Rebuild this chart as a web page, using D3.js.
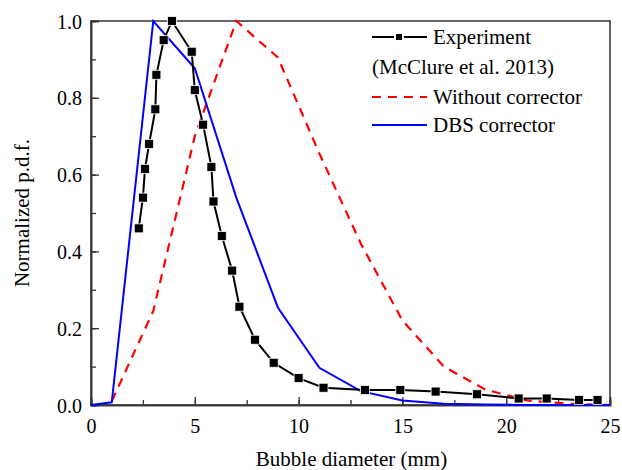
<!DOCTYPE html>
<html>
<head>
<meta charset="utf-8">
<script src="https://cdn.jsdelivr.net/npm/d3@7"></script>
<style>
  body { margin: 0; background: #fff; }
</style>
</head>
<body>
<div id="chart"></div>
<script>
// Experiment (McClure et al. 2013)
const expX = [2.3, 2.5, 2.6, 2.8, 3.1, 3.15, 3.5, 3.9, 4.85, 5.0, 5.4, 5.8, 5.9, 6.3, 6.8, 7.15, 7.9, 8.8, 10.0, 11.2, 13.2, 14.9, 16.6, 18.6, 20.6, 21.95, 23.5, 24.4];
const expY = [0.46, 0.54, 0.615, 0.68, 0.77, 0.86, 0.95, 1.0, 0.92, 0.82, 0.73, 0.62, 0.53, 0.44, 0.35, 0.256, 0.17, 0.11, 0.07, 0.045, 0.039, 0.039, 0.035, 0.028, 0.017, 0.017, 0.013, 0.013];

// Without corrector
const noX = [1, 3, 5, 7, 9, 11, 13, 15, 17, 19, 21, 23, 25];
const noY = [0.01, 0.245, 0.70, 1.0, 0.905, 0.655, 0.42, 0.22, 0.10, 0.04, 0.012, 0.003, 0.0];

// DBS corrector
const dbsX = [0, 1, 3, 5, 7, 9, 11, 13, 15, 17, 19, 21, 23, 25];
const dbsY = [0, 0.007, 1.0, 0.877, 0.54, 0.254, 0.097, 0.036, 0.012, 0.003, 0.001, 0, 0, 0];

const xTicks = [0, 5, 10, 15, 20, 25];
const yTicks = [0, 0.2, 0.4, 0.6, 0.8, 1.0];

const serif = '"Liberation Serif", "Times New Roman", Times, "DejaVu Serif", serif';

const W = 622, H = 470;
const margin = { top: 21, right: 12, bottom: 65, left: 91 };
const width = W - margin.left - margin.right;
const height = H - margin.top - margin.bottom;

const svg = d3.select('#chart').append('svg')
    .attr('width', W)
    .attr('height', H)
    .attr('font-family', serif);

const g = svg.append('g')
    .attr('transform', 'translate(' + margin.left + ',' + margin.top + ')');

const x = d3.scaleLinear().domain([0, 25]).range([0, width]);
const y = d3.scaleLinear().domain([0, 1]).range([height, 0]);

// frame
g.append('rect')
    .attr('width', width).attr('height', height)
    .attr('fill', 'none').attr('stroke', '#333').attr('stroke-width', 1.5);

// minor ticks
const xAxisMinor = d3.axisBottom(x).tickValues(d3.range(0, 25.01, 2.5)).tickSize(-5).tickFormat('');
const yAxisMinor = d3.axisLeft(y).tickValues(d3.range(0, 1.01, 0.1)).tickSize(-5).tickFormat('');
g.append('g').attr('transform', 'translate(0,' + height + ')').call(xAxisMinor);
g.append('g').call(yAxisMinor);

// major ticks
const xAxis = d3.axisBottom(x).tickValues(xTicks).tickSize(-8).tickPadding(14).tickFormat(d3.format('d'));
const yAxis = d3.axisLeft(y).tickValues(yTicks).tickSize(-8).tickPadding(9).tickFormat(d3.format('.1f'));
g.append('g').attr('class', 'xa').attr('transform', 'translate(0,' + height + ')').call(xAxis);
g.append('g').attr('class', 'ya').call(yAxis);

g.selectAll('.domain').attr('stroke', '#333').attr('stroke-width', 1.5);
g.selectAll('.tick line').attr('stroke', '#333').attr('stroke-width', 1.3);
g.selectAll('.tick text').attr('fill', '#000')
    .attr('font-family', serif).attr('font-size', 20);
g.selectAll('.ya .tick text').attr('dy', '0.35em');

// axis titles
svg.append('text')
    .attr('x', margin.left + width / 2 + 1).attr('y', 466)
    .attr('text-anchor', 'middle').attr('font-size', 21)
    .text('Bubble diameter (mm)');
svg.append('text')
    .attr('transform', 'translate(29,' + (margin.top + height / 2) + ') rotate(-90)')
    .attr('text-anchor', 'middle').attr('font-size', 21)
    .text('Normalized p.d.f.');

const line = d3.line().x(d => x(d[0])).y(d => y(d[1]));
const plot = g.append('g');

plot.append('path')
    .datum(d3.zip(noX, noY))
    .attr('d', line).attr('fill', 'none')
    .attr('stroke', '#ff0000').attr('stroke-width', 2.2)
    .attr('stroke-dasharray', '9,7');

plot.append('path')
    .datum(d3.zip(dbsX, dbsY))
    .attr('d', line).attr('fill', 'none')
    .attr('stroke', '#0000ff').attr('stroke-width', 2);

const expData = d3.zip(expX, expY);
plot.append('path')
    .datum(expData)
    .attr('d', line).attr('fill', 'none')
    .attr('stroke', '#000').attr('stroke-width', 2);

plot.selectAll('rect.pt')
    .data(expData)
    .enter().append('rect')
    .attr('class', 'pt')
    .attr('x', d => x(d[0]) - 4.5)
    .attr('y', d => y(d[1]) - 4.5)
    .attr('width', 9).attr('height', 9)
    .attr('fill', '#000').attr('stroke', '#fff').attr('stroke-width', 0.8);

// legend
const leg = svg.append('g');
const lx0 = 372, lx1 = 427, tx = 433;
const fs = 21;

leg.append('line').attr('x1', lx0).attr('x2', lx1).attr('y1', 37).attr('y2', 37)
    .attr('stroke', '#000').attr('stroke-width', 2);
leg.append('rect').attr('x', 395).attr('y', 33).attr('width', 8).attr('height', 8)
    .attr('fill', '#000').attr('stroke', '#fff').attr('stroke-width', 2);
leg.append('text').attr('x', tx).attr('y', 37).attr('dy', '0.35em').attr('font-size', fs).text('Experiment');
leg.append('text').attr('x', lx0).attr('y', 67).attr('dy', '0.35em').attr('font-size', fs).text('(McClure et al. 2013)');

leg.append('line').attr('x1', lx0).attr('x2', lx1).attr('y1', 97).attr('y2', 97)
    .attr('stroke', '#ff0000').attr('stroke-width', 2.2).attr('stroke-dasharray', '9,7');
leg.append('text').attr('x', tx).attr('y', 97).attr('dy', '0.35em').attr('font-size', fs).text('Without corrector');

leg.append('line').attr('x1', lx0).attr('x2', lx1).attr('y1', 125).attr('y2', 125)
    .attr('stroke', '#0000ff').attr('stroke-width', 2);
leg.append('text').attr('x', tx).attr('y', 125).attr('dy', '0.35em').attr('font-size', fs).text('DBS corrector');
</script>
</body>
</html>
